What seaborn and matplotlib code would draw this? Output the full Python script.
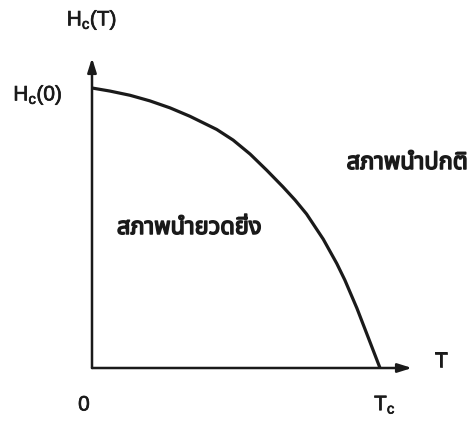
import matplotlib
matplotlib.use("Agg")
import matplotlib.pyplot as plt
from matplotlib import font_manager, patheffects
from matplotlib.ft2font import FT2Font
import seaborn as sns
import pandas as pd

# Critical field curve H_c(T), normalised to T_c and H_c(0)
t_over_tc = [0.0, 0.0625, 0.132, 0.201, 0.271, 0.340, 0.433, 0.490, 0.549,
             0.607, 0.663, 0.705, 0.745, 0.803, 0.850, 0.878, 0.920, 0.958, 1.0]
h_over_h0 = [1.0, 0.989, 0.974, 0.954, 0.929, 0.899, 0.852, 0.814, 0.764,
             0.706, 0.647, 0.600, 0.550, 0.460, 0.373, 0.314, 0.213, 0.112, 0.0]

y_axis_label = r"H$_\mathregular{c}$(T)"
y_tick_label = r"H$_\mathregular{c}$(0)"
x_axis_label = "T"
x_tick_labels = ["0", r"T$_\mathregular{c}$"]
region_super = "สภาพนำยวดยิ่ง"
region_normal = "สภาพนำปกติ"

df = pd.DataFrame({"T": t_over_tc, "H": h_over_h0})

sns.set_theme(style="white")
latin = "Liberation Sans"


def find_thai_font():
    preferred = ["Noto Sans Thai", "Noto Sans Thai UI", "Loma", "Garuda", "Sarabun",
                 "Tlwg Typo", "Kinnari", "Norasi", "Waree", "Umpush"]
    found = {}
    for f in font_manager.fontManager.ttflist:
        try:
            ft = FT2Font(f.fname)
            if ft.get_char_index(0x0E2A) and ft.get_char_index(0x0E20):
                found.setdefault(f.name, f.fname)
        except Exception:
            continue
    for name in preferred:
        if name in found:
            return name
    return next(iter(found), "DejaVu Sans")


thai = find_thai_font()
plt.rcParams["font.family"] = [latin, "DejaVu Sans"]
plt.rcParams["mathtext.fontset"] = "custom"
plt.rcParams["mathtext.rm"] = latin

W, H = 476, 423
fig = plt.figure(figsize=(W / 100, H / 100), dpi=100)

# axes box spans the origin (92, 368) to the arrow tips (412, 58), in pixels
x0, y0, x1, y1 = 92, 368, 412, 58
ax = fig.add_axes([x0 / W, (H - y0) / H, (x1 - x0) / W, (y0 - y1) / H])
xmax = (x1 - x0) / 288
ymax = (y0 - y1) / 280
ax.set_xlim(0, xmax)
ax.set_ylim(0, ymax)
ax.patch.set_alpha(0)
for s in ax.spines.values():
    s.set_visible(False)
ax.set_xticks([])
ax.set_yticks([])

ink = "#1a1a1a"
sns.lineplot(data=df, x="T", y="H", ax=ax, color=ink, linewidth=2.3,
             estimator=None, sort=False)
ax.get_lines()[0].set_solid_joinstyle("round")
ax.set_xlabel("")
ax.set_ylabel("")

arrow = dict(arrowstyle="-|>,head_length=0.7,head_width=0.22", color=ink,
             lw=1.8, shrinkA=0, shrinkB=0)
ax.annotate("", xy=(xmax, 0), xytext=(0, 0), arrowprops=arrow,
            annotation_clip=False)
ax.annotate("", xy=(0, ymax), xytext=(0, 0), arrowprops=arrow,
            annotation_clip=False)


def px(x, y, s, size, family=None, stroke=0.5):
    t = fig.text(x / W, 1 - y / H, s, fontsize=size, ha="center", va="center",
                 color=ink, family=family or [latin, "DejaVu Sans"])
    t.set_path_effects([patheffects.withStroke(linewidth=stroke, foreground=ink)])
    return t


px(92, 20, y_axis_label, 15)
px(38, 95, y_tick_label, 15)
px(84, 405, x_tick_labels[0], 15)
px(385, 405, x_tick_labels[1], 15)
px(441, 361, x_axis_label, 15)
px(189, 228, region_super, 17, family=[thai, latin], stroke=1.1)
px(407, 163, region_normal, 17, family=[thai, latin], stroke=1.1)

fig.savefig("out.png", dpi=100)
